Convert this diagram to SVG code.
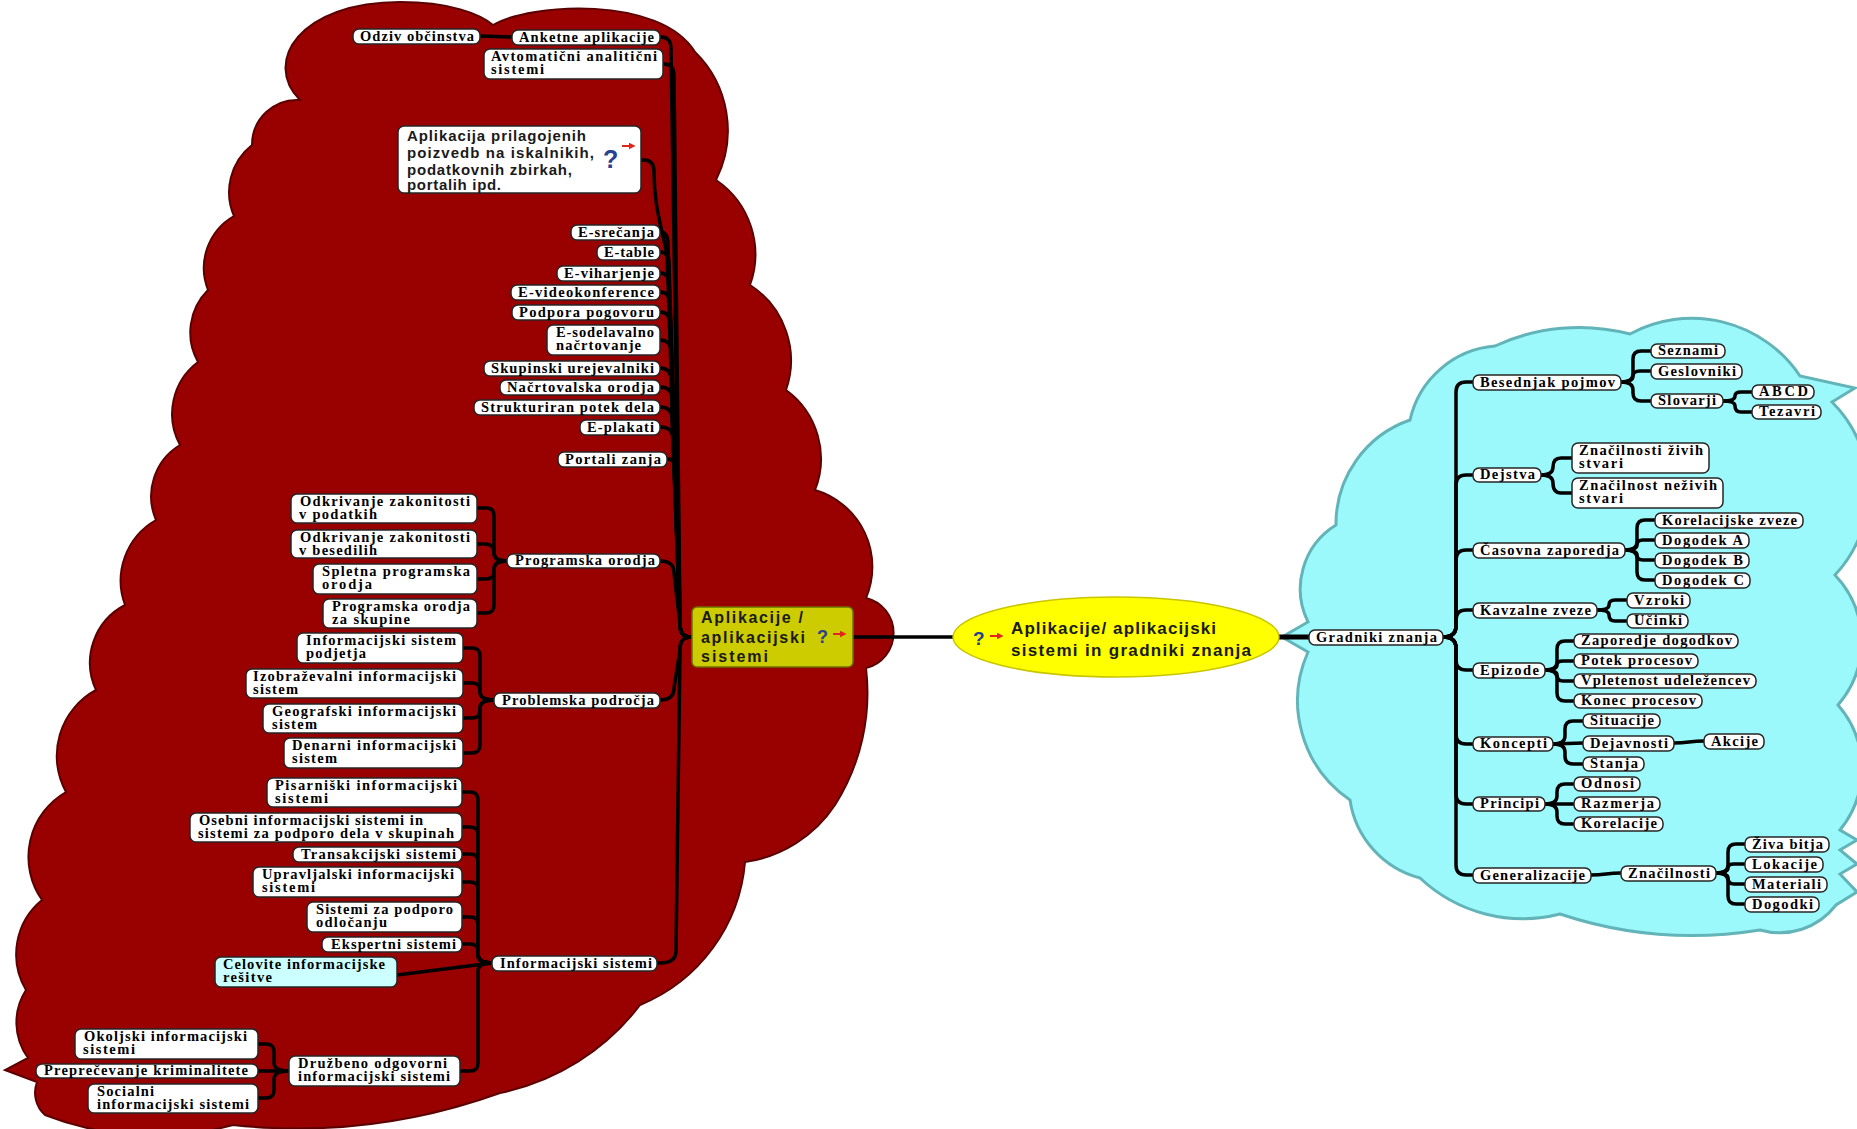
<svg xmlns="http://www.w3.org/2000/svg" width="1857" height="1129" viewBox="0 0 1857 1129">
<style>
.red{fill:#990000;stroke:#5a0000;stroke-width:2}
.cy{fill:#9cf9fb;stroke:#62b4b9;stroke-width:3}
.c{fill:none;stroke:#000;stroke-width:3.5;stroke-linecap:round;stroke-linejoin:round}
.b{fill:#fff;stroke:#262626;stroke-width:1.5}
.t{font-family:"Liberation Serif","Times New Roman",serif;font-weight:bold;font-size:14.5px;fill:#000}
.s{font-family:"Liberation Sans",Arial,sans-serif;font-weight:bold;fill:#1a1a1a}
.q{font-family:"Liberation Sans",Arial,sans-serif;font-weight:bold;fill:#26418f}
.ar{stroke:#e3241b;stroke-width:2;fill:none}
</style>
<defs>
<marker id="ah" viewBox="0 0 10 10" refX="2" refY="5" markerWidth="3.5" markerHeight="3.5" orient="auto"><path d="M0,0 L10,5 L0,10 z" fill="#e3241b"/></marker>
</defs>
<rect width="1857" height="1129" fill="#fff"/>
<g id="clouds">
<path class="red" d="M300 100 C262 62 300 2 400 2 C450 2 480 14 493 25 C530 3 660 -5 695 52 A110 110 0 0 1 716 180 A90 90 0 0 1 750 285 A90 90 0 0 1 786 390 A85 85 0 0 1 815 490 A80 80 0 0 1 866 598 A36 36 0 0 1 866 668 A210 210 0 0 1 835 805 A130 130 0 0 1 745 862 A170 170 0 0 1 640 1005 A235 235 0 0 1 500 1093 A600 600 0 0 1 233 1125 A300 300 0 0 1 45 1115 A30 30 0 0 1 37 1082 L5 1070 L28 1058 A60 60 0 0 1 26 990 A70 70 0 0 1 42 900 A75 75 0 0 1 66 792 A75 75 0 0 1 96 690 A65 65 0 0 1 125 605 A70 70 0 0 1 156 520 A60 60 0 0 1 180 445 A65 65 0 0 1 198 362 A60 60 0 0 1 208 290 A60 60 0 0 1 234 216 A60 60 0 0 1 252 145 A45 45 0 0 1 300 100 Z"/>
<path class="cy" d="M1282 637 L1308 622 A75 75 0 0 1 1336 525 A110 110 0 0 1 1410 420 A95 95 0 0 1 1495 346 A200 200 0 0 1 1630 334 A130 130 0 0 1 1800 376 L1855 388 L1832 402 A124 124 0 0 1 1835 575 A97 97 0 0 1 1838 705 A97 97 0 0 1 1840 830 L1857 840 L1840 850 L1857 864 L1840 874 L1857 892 L1836 905 A71 71 0 0 1 1760 930 A420 420 0 0 1 1560 914 A150 150 0 0 1 1420 878 A95 95 0 0 1 1350 800 A120 120 0 0 1 1308 652 Z"/>
</g>
<g id="connectors">
<path class="c" d="M853 637 L953 637"/>
<path class="c" style="stroke-width:5" d="M1279 637 L1309 637"/>
<path class="c" d="M692 637 C682 637 680 632 680 624 L671 49 Q671 37 661 37 L660 37"/>
<path class="c" d="M692 637 C682 637 680 632 680 624 L674 76 Q674 64 664 64 L663 64"/>
<path class="c" d="M692 637 C682 637 680 632 680 624 L667 255 C661 225 654 205 654 172 Q654 160 644 160 L641 160"/>
<path class="c" d="M692 637 C682 637 680 632 680 624 L668 244 Q668 232 660 232"/>
<path class="c" d="M692 637 C682 637 680 632 680 624 L669 264 Q669 252 660 252"/>
<path class="c" d="M692 637 C682 637 680 632 680 624 L669 285 Q669 273 660 273"/>
<path class="c" d="M692 637 C682 637 680 632 680 624 L670 304 Q670 292 660 292"/>
<path class="c" d="M692 637 C682 637 680 632 680 624 L670 324 Q670 312 660 312"/>
<path class="c" d="M692 637 C682 637 680 632 680 624 L671 352 Q671 340 660 340"/>
<path class="c" d="M692 637 C682 637 680 632 680 624 L671 380 Q671 368 660 368"/>
<path class="c" d="M692 637 C682 637 680 632 680 624 L672 399 Q672 387 660 387"/>
<path class="c" d="M692 637 C682 637 680 632 680 624 L672 419 Q672 407 660 407"/>
<path class="c" d="M692 637 C682 637 680 632 680 624 L673 439 Q673 427 660 427"/>
<path class="c" d="M692 637 C682 637 680 632 680 624 L677 471 Q677 459 667 459"/>
<path class="c" d="M692 637 C682 637 680 632 680 624 L674 573 Q674 561 660 561"/>
<path class="c" d="M692 637 C682 637 680 642 680 650 L674 688 Q674 700 660 700"/>
<path class="c" d="M692 637 C682 637 680 642 680 650 L676 951 Q676 963 660 963 L657 963"/>
<path class="c" d="M512 37 C496 37 496 36 480 36"/>
<path class="c" d="M507 561 Q494 561 494 553 L494 516 Q494 508 486 508 L477 508"/>
<path class="c" d="M507 561 Q494 561 494 553 Q494 544 485 544 L477 544"/>
<path class="c" d="M507 561 Q494 561 494 569 L494 571 Q494 579 486 579 L477 579"/>
<path class="c" d="M507 561 Q494 561 494 569 L494 605 Q494 613 486 613 L477 613"/>
<path class="c" d="M494 700 Q480 700 480 692 L480 656 Q480 648 472 648 L463 648"/>
<path class="c" d="M494 700 Q480 700 480 692 L480 691 Q480 683 472 683 L463 683"/>
<path class="c" d="M494 700 Q480 700 480 708 L480 710 Q480 718 472 718 L463 718"/>
<path class="c" d="M494 700 Q480 700 480 708 L480 745 Q480 753 472 753 L463 753"/>
<path class="c" d="M492 963 Q478 963 478 955 L478 800 Q478 792 470 792 L462 792"/>
<path class="c" d="M492 963 Q478 963 478 955 L478 835 Q478 827 470 827 L462 827"/>
<path class="c" d="M492 963 Q478 963 478 955 L478 862 Q478 854 470 854 L462 854"/>
<path class="c" d="M492 963 Q478 963 478 955 L478 890 Q478 882 470 882 L462 882"/>
<path class="c" d="M492 963 Q478 963 478 955 L478 925 Q478 917 470 917 L462 917"/>
<path class="c" d="M492 963 Q478 963 478 955 L478 952 Q478 944 470 944 L462 944"/>
<path class="c" d="M492 963 L397 975"/>
<path class="c" d="M492 963 Q478 963 478 971 L478 1063 Q478 1071 470 1071 L460 1071"/>
<path class="c" d="M289 1071 Q274 1071 274 1063 L274 1052 Q274 1044 266 1044 L258 1044"/>
<path class="c" d="M289 1071 L258 1071"/>
<path class="c" d="M289 1071 Q274 1071 274 1079 L274 1090 Q274 1098 266 1098 L258 1098"/>
<path class="c" d="M1443 637 C1452 637 1456 633 1456 626 L1456 392 Q1456 382 1466 382 L1473 382"/>
<path class="c" d="M1443 637 C1452 637 1456 633 1456 626 L1456 485 Q1456 475 1466 475 L1473 475"/>
<path class="c" d="M1443 637 C1452 637 1456 633 1456 626 L1456 560 Q1456 550 1466 550 L1473 550"/>
<path class="c" d="M1443 637 C1452 637 1456 633 1456 626 L1456 620 Q1456 610 1466 610 L1473 610"/>
<path class="c" d="M1443 637 C1452 637 1456 641 1456 648 L1456 660 Q1456 670 1466 670 L1473 670"/>
<path class="c" d="M1443 637 C1452 637 1456 641 1456 648 L1456 734 Q1456 744 1466 744 L1473 744"/>
<path class="c" d="M1443 637 C1452 637 1456 641 1456 648 L1456 794 Q1456 804 1466 804 L1473 804"/>
<path class="c" d="M1443 637 C1452 637 1456 641 1456 648 L1456 865 Q1456 875 1466 875 L1473 875"/>
<path class="c" d="M1621 382 Q1633 382 1633 374 L1633 359 Q1633 351 1641 351 L1651 351"/>
<path class="c" d="M1621 382 Q1633 382 1633 376 Q1633 371 1640 371 L1651 371"/>
<path class="c" d="M1621 382 Q1633 382 1633 390 L1633 393 Q1633 401 1641 401 L1651 401"/>
<path class="c" d="M1723 401 Q1735 401 1735 396 Q1735 392 1741 392 L1752 392"/>
<path class="c" d="M1723 401 Q1735 401 1735 406 Q1735 412 1741 412 L1752 412"/>
<path class="c" d="M1541 475 Q1553 475 1553 467 Q1553 458 1561 458 L1572 458"/>
<path class="c" d="M1541 475 Q1553 475 1553 483 Q1553 493 1561 493 L1572 493"/>
<path class="c" d="M1625 550 Q1637 550 1637 542 L1637 528 Q1637 520 1645 520 L1655 520"/>
<path class="c" d="M1625 550 Q1637 550 1637 545 Q1637 540 1643 540 L1655 540"/>
<path class="c" d="M1625 550 Q1637 550 1637 555 Q1637 560 1643 560 L1655 560"/>
<path class="c" d="M1625 550 Q1637 550 1637 558 L1637 572 Q1637 580 1645 580 L1655 580"/>
<path class="c" d="M1597 610 Q1609 610 1609 605 Q1609 600 1615 600 L1627 600"/>
<path class="c" d="M1597 610 Q1609 610 1609 615 Q1609 621 1615 621 L1627 621"/>
<path class="c" d="M1545 670 Q1557 670 1557 662 L1557 649 Q1557 641 1565 641 L1574 641"/>
<path class="c" d="M1545 670 Q1557 670 1557 665 Q1557 661 1563 661 L1574 661"/>
<path class="c" d="M1545 670 Q1557 670 1557 675 Q1557 681 1563 681 L1574 681"/>
<path class="c" d="M1545 670 Q1557 670 1557 678 L1557 693 Q1557 701 1565 701 L1574 701"/>
<path class="c" d="M1553 744 Q1565 744 1565 736 L1565 729 Q1565 721 1573 721 L1583 721"/>
<path class="c" d="M1553 744 L1583 743"/>
<path class="c" d="M1553 744 Q1565 744 1565 752 L1565 756 Q1565 764 1573 764 L1583 764"/>
<path class="c" d="M1674 743 C1689 743 1689 741 1704 741"/>
<path class="c" d="M1545 804 Q1557 804 1557 796 L1557 792 Q1557 784 1565 784 L1574 784"/>
<path class="c" d="M1545 804 L1574 804"/>
<path class="c" d="M1545 804 Q1557 804 1557 812 L1557 816 Q1557 824 1565 824 L1574 824"/>
<path class="c" d="M1591 875 C1606 875 1606 873 1621 873"/>
<path class="c" d="M1716 873 Q1728 873 1728 865 L1728 852 Q1728 844 1736 844 L1745 844"/>
<path class="c" d="M1716 873 Q1728 873 1728 868 Q1728 864 1734 864 L1745 864"/>
<path class="c" d="M1716 873 Q1728 873 1728 878 Q1728 884 1734 884 L1745 884"/>
<path class="c" d="M1716 873 Q1728 873 1728 881 L1728 896 Q1728 904 1736 904 L1745 904"/>
</g>
<g id="n-center">
<ellipse cx="1116" cy="637" rx="163" ry="40" fill="#ffff00" stroke="#c9c500" stroke-width="1.5"/>
<text class="q" x="973" y="645" font-size="19">?</text>
<path class="ar" d="M990 636 L998 636" marker-end="url(#ah)"/>
<text class="s" x="1011" y="634" font-size="17" textLength="205" lengthAdjust="spacing">Aplikacije/ aplikacijski</text>
<text class="s" x="1011" y="656" font-size="17" textLength="240" lengthAdjust="spacing">sistemi in gradniki znanja</text>
</g>
<g id="n-aplikacije">
<rect x="692" y="607" width="161" height="60" rx="5" fill="#cccc00" stroke="#6f6f00" stroke-width="1.5"/>
<text class="s" x="701" y="623" font-size="16" textLength="102" lengthAdjust="spacing">Aplikacije /</text>
<text class="s" x="701" y="643" font-size="16" textLength="104" lengthAdjust="spacing">aplikacijski</text>
<text class="s" x="701" y="662" font-size="16" textLength="67" lengthAdjust="spacing">sistemi</text>
<text class="q" x="817" y="643" font-size="18">?</text>
<path class="ar" d="M833 634 L841 634" marker-end="url(#ah)"/>
</g>
<g id="n-odziv"><rect class="b" x="353" y="29" width="127" height="15" rx="6"/><text class="t" x="360" y="40.5" textLength="114" lengthAdjust="spacing">Odziv občinstva</text></g>
<g id="n-anketne"><rect class="b" x="512" y="30" width="148" height="15" rx="6"/><text class="t" x="519" y="41.5" textLength="135" lengthAdjust="spacing">Anketne aplikacije</text></g>
<g id="n-avtomaticni"><rect class="b" x="484" y="49" width="179" height="30" rx="6"/><text class="t" x="491" y="61" textLength="166" lengthAdjust="spacing">Avtomatični analitični</text><text class="t" x="491" y="74" textLength="53" lengthAdjust="spacing">sistemi</text></g>
<g id="n-prilagojenih"><rect class="b" x="398" y="126" width="243" height="67" rx="6"/>
<text class="s" x="407" y="141" font-size="15" textLength="179" lengthAdjust="spacing">Aplikacija prilagojenih</text>
<text class="s" x="407" y="158" font-size="15" textLength="187" lengthAdjust="spacing">poizvedb na iskalnikih,</text>
<text class="s" x="407" y="175" font-size="15" textLength="165" lengthAdjust="spacing">podatkovnih zbirkah,</text>
<text class="s" x="407" y="190" font-size="15" textLength="94" lengthAdjust="spacing">portalih ipd.</text>
<text class="q" x="603" y="168" font-size="25">?</text>
<path class="ar" d="M622 146 L630 146" marker-end="url(#ah)"/></g>
<g id="n-esrecanja"><rect class="b" x="571" y="225" width="89" height="15" rx="6"/><text class="t" x="578" y="236.5" textLength="76" lengthAdjust="spacing">E-srečanja</text></g>
<g id="n-etable"><rect class="b" x="597" y="245" width="63" height="15" rx="6"/><text class="t" x="604" y="256.5" textLength="50" lengthAdjust="spacing">E-table</text></g>
<g id="n-eviharjenje"><rect class="b" x="557" y="266" width="103" height="15" rx="6"/><text class="t" x="564" y="277.5" textLength="90" lengthAdjust="spacing">E-viharjenje</text></g>
<g id="n-evideo"><rect class="b" x="511" y="285" width="149" height="15" rx="6"/><text class="t" x="518" y="296.5" textLength="136" lengthAdjust="spacing">E-videokonference</text></g>
<g id="n-podpora"><rect class="b" x="512" y="305" width="148" height="15" rx="6"/><text class="t" x="519" y="316.5" textLength="135" lengthAdjust="spacing">Podpora pogovoru</text></g>
<g id="n-esodelavalno"><rect class="b" x="547" y="325" width="113" height="30" rx="6"/><text class="t" x="556" y="337" textLength="98" lengthAdjust="spacing">E-sodelavalno</text><text class="t" x="556" y="350" textLength="85" lengthAdjust="spacing">načrtovanje</text></g>
<g id="n-skupinski"><rect class="b" x="484" y="361" width="176" height="15" rx="6"/><text class="t" x="491" y="372.5" textLength="163" lengthAdjust="spacing">Skupinski urejevalniki</text></g>
<g id="n-nacrtovalska"><rect class="b" x="500" y="380" width="160" height="15" rx="6"/><text class="t" x="507" y="391.5" textLength="147" lengthAdjust="spacing">Načrtovalska orodja</text></g>
<g id="n-strukturiran"><rect class="b" x="474" y="400" width="186" height="15" rx="6"/><text class="t" x="481" y="411.5" textLength="173" lengthAdjust="spacing">Strukturiran potek dela</text></g>
<g id="n-eplakati"><rect class="b" x="580" y="420" width="80" height="15" rx="6"/><text class="t" x="587" y="431.5" textLength="67" lengthAdjust="spacing">E-plakati</text></g>
<g id="n-portali"><rect class="b" x="558" y="452" width="109" height="15" rx="6"/><text class="t" x="565" y="463.5" textLength="96" lengthAdjust="spacing">Portali zanja</text></g>
<g id="n-odkrivanje1"><rect class="b" x="291" y="494" width="186" height="29" rx="6"/><text class="t" x="300" y="506" textLength="170" lengthAdjust="spacing">Odkrivanje zakonitosti</text><text class="t" x="299" y="519" textLength="78" lengthAdjust="spacing">v podatkih</text></g>
<g id="n-odkrivanje2"><rect class="b" x="291" y="530" width="186" height="28" rx="6"/><text class="t" x="300" y="542" textLength="170" lengthAdjust="spacing">Odkrivanje zakonitosti</text><text class="t" x="299" y="555" textLength="78" lengthAdjust="spacing">v besedilih</text></g>
<g id="n-spletna"><rect class="b" x="313" y="564" width="164" height="30" rx="6"/><text class="t" x="322" y="576" textLength="148" lengthAdjust="spacing">Spletna programska</text><text class="t" x="322" y="589" textLength="50" lengthAdjust="spacing">orodja</text></g>
<g id="n-progskupine"><rect class="b" x="323" y="599" width="154" height="29" rx="6"/><text class="t" x="332" y="611" textLength="138" lengthAdjust="spacing">Programska orodja</text><text class="t" x="332" y="624" textLength="78" lengthAdjust="spacing">za skupine</text></g>
<g id="n-programska"><rect class="b" x="507" y="554" width="153" height="14" rx="6"/><text class="t" x="515" y="565" textLength="140" lengthAdjust="spacing">Programska orodja</text></g>
<g id="n-ispodjetja"><rect class="b" x="297" y="633" width="166" height="30" rx="6"/><text class="t" x="306" y="645" textLength="150" lengthAdjust="spacing">Informacijski sistem</text><text class="t" x="306" y="658" textLength="60" lengthAdjust="spacing">podjetja</text></g>
<g id="n-izobrazevalni"><rect class="b" x="246" y="669" width="217" height="29" rx="6"/><text class="t" x="253" y="681" textLength="203" lengthAdjust="spacing">Izobraževalni informacijski</text><text class="t" x="253" y="694" textLength="45" lengthAdjust="spacing">sistem</text></g>
<g id="n-geografski"><rect class="b" x="263" y="704" width="200" height="29" rx="6"/><text class="t" x="272" y="716" textLength="184" lengthAdjust="spacing">Geografski informacijski</text><text class="t" x="272" y="729" textLength="45" lengthAdjust="spacing">sistem</text></g>
<g id="n-denarni"><rect class="b" x="284" y="738" width="179" height="30" rx="6"/><text class="t" x="292" y="750" textLength="164" lengthAdjust="spacing">Denarni informacijski</text><text class="t" x="292" y="763" textLength="45" lengthAdjust="spacing">sistem</text></g>
<g id="n-problemska"><rect class="b" x="494" y="693" width="166" height="15" rx="6"/><text class="t" x="502" y="704.5" textLength="152" lengthAdjust="spacing">Problemska področja</text></g>
<g id="n-pisarniski"><rect class="b" x="267" y="778" width="195" height="29" rx="6"/><text class="t" x="275" y="790" textLength="182" lengthAdjust="spacing">Pisarniški informacijski</text><text class="t" x="275" y="803" textLength="53" lengthAdjust="spacing">sistemi</text></g>
<g id="n-osebni"><rect class="b" x="190" y="813" width="272" height="29" rx="6"/><text class="t" x="199" y="825" textLength="224" lengthAdjust="spacing">Osebni informacijski sistemi in</text><text class="t" x="198" y="838" textLength="256" lengthAdjust="spacing">sistemi za podporo dela v skupinah</text></g>
<g id="n-transakcijski"><rect class="b" x="293" y="847" width="169" height="15" rx="6"/><text class="t" x="301" y="858.5" textLength="155" lengthAdjust="spacing">Transakcijski sistemi</text></g>
<g id="n-upravljalski"><rect class="b" x="253" y="867" width="209" height="30" rx="6"/><text class="t" x="262" y="879" textLength="192" lengthAdjust="spacing">Upravljalski informacijski</text><text class="t" x="262" y="892" textLength="53" lengthAdjust="spacing">sistemi</text></g>
<g id="n-sistemizapodporo"><rect class="b" x="307" y="902" width="155" height="30" rx="6"/><text class="t" x="316" y="914" textLength="137" lengthAdjust="spacing">Sistemi za podporo</text><text class="t" x="316" y="927" textLength="71" lengthAdjust="spacing">odločanju</text></g>
<g id="n-ekspertni"><rect class="b" x="322" y="937" width="140" height="15" rx="6"/><text class="t" x="331" y="948.5" textLength="125" lengthAdjust="spacing">Ekspertni sistemi</text></g>
<g id="n-celovite"><rect class="b" x="215" y="957" width="182" height="30" rx="6" style="fill:#ccffff"/><text class="t" x="223" y="969" textLength="162" lengthAdjust="spacing">Celovite informacijske</text><text class="t" x="223" y="982" textLength="49" lengthAdjust="spacing">rešitve</text></g>
<g id="n-infosistemi"><rect class="b" x="492" y="956" width="165" height="15" rx="6"/><text class="t" x="500" y="967.5" textLength="152" lengthAdjust="spacing">Informacijski sistemi</text></g>
<g id="n-okoljski"><rect class="b" x="75" y="1029" width="183" height="30" rx="6"/><text class="t" x="84" y="1041" textLength="163" lengthAdjust="spacing">Okoljski informacijski</text><text class="t" x="83" y="1054" textLength="52" lengthAdjust="spacing">sistemi</text></g>
<g id="n-preprecevanje"><rect class="b" x="36" y="1064" width="222" height="14" rx="6"/><text class="t" x="44" y="1075" textLength="204" lengthAdjust="spacing">Preprečevanje kriminalitete</text></g>
<g id="n-socialni"><rect class="b" x="88" y="1084" width="170" height="29" rx="6"/><text class="t" x="97" y="1096" textLength="57" lengthAdjust="spacing">Socialni</text><text class="t" x="97" y="1109" textLength="152" lengthAdjust="spacing">informacijski sistemi</text></g>
<g id="n-druzbeno"><rect class="b" x="289" y="1056" width="171" height="30" rx="6"/><text class="t" x="298" y="1068" textLength="149" lengthAdjust="spacing">Družbeno odgovorni</text><text class="t" x="298" y="1081" textLength="152" lengthAdjust="spacing">informacijski sistemi</text></g>
<g id="n-gradniki"><rect class="b" x="1309" y="630" width="134" height="15" rx="6"/><text class="t" x="1316" y="641.5" textLength="121" lengthAdjust="spacing">Gradniki znanja</text></g>
<g id="n-besednjak"><rect class="b" x="1473" y="375" width="148" height="15" rx="6"/><text class="t" x="1480" y="386.5" textLength="135" lengthAdjust="spacing">Besednjak pojmov</text></g>
<g id="n-seznami"><rect class="b" x="1651" y="344" width="74" height="14" rx="6"/><text class="t" x="1658" y="355" textLength="60" lengthAdjust="spacing">Seznami</text></g>
<g id="n-geslovniki"><rect class="b" x="1651" y="364" width="91" height="15" rx="6"/><text class="t" x="1658" y="375.5" textLength="78" lengthAdjust="spacing">Geslovniki</text></g>
<g id="n-slovarji"><rect class="b" x="1651" y="394" width="72" height="14" rx="6"/><text class="t" x="1658" y="405" textLength="58" lengthAdjust="spacing">Slovarji</text></g>
<g id="n-abcd"><rect class="b" x="1752" y="385" width="62" height="14" rx="6"/><text class="t" x="1759" y="396" textLength="49" lengthAdjust="spacing">ABCD</text></g>
<g id="n-tezavri"><rect class="b" x="1752" y="405" width="69" height="14" rx="6"/><text class="t" x="1759" y="416" textLength="56" lengthAdjust="spacing">Tezavri</text></g>
<g id="n-dejstva"><rect class="b" x="1473" y="468" width="68" height="14" rx="6"/><text class="t" x="1480" y="479" textLength="55" lengthAdjust="spacing">Dejstva</text></g>
<g id="n-zivih"><rect class="b" x="1572" y="443" width="137" height="30" rx="6"/><text class="t" x="1579" y="455" textLength="124" lengthAdjust="spacing">Značilnosti živih</text><text class="t" x="1579" y="468" textLength="44" lengthAdjust="spacing">stvari</text></g>
<g id="n-nezivih"><rect class="b" x="1572" y="478" width="151" height="30" rx="6"/><text class="t" x="1579" y="490" textLength="138" lengthAdjust="spacing">Značilnost neživih</text><text class="t" x="1579" y="503" textLength="44" lengthAdjust="spacing">stvari</text></g>
<g id="n-casovna"><rect class="b" x="1473" y="543" width="152" height="15" rx="6"/><text class="t" x="1480" y="554.5" textLength="139" lengthAdjust="spacing">Časovna zaporedja</text></g>
<g id="n-korelacijske"><rect class="b" x="1655" y="513" width="148" height="15" rx="6"/><text class="t" x="1662" y="524.5" textLength="135" lengthAdjust="spacing">Korelacijske zveze</text></g>
<g id="n-doga"><rect class="b" x="1655" y="533" width="94" height="15" rx="6"/><text class="t" x="1662" y="544.5" textLength="81" lengthAdjust="spacing">Dogodek A</text></g>
<g id="n-dogb"><rect class="b" x="1655" y="553" width="94" height="15" rx="6"/><text class="t" x="1662" y="564.5" textLength="81" lengthAdjust="spacing">Dogodek B</text></g>
<g id="n-dogc"><rect class="b" x="1655" y="573" width="95" height="15" rx="6"/><text class="t" x="1662" y="584.5" textLength="82" lengthAdjust="spacing">Dogodek C</text></g>
<g id="n-kavzalne"><rect class="b" x="1473" y="603" width="124" height="15" rx="6"/><text class="t" x="1480" y="614.5" textLength="111" lengthAdjust="spacing">Kavzalne zveze</text></g>
<g id="n-vzroki"><rect class="b" x="1627" y="593" width="63" height="15" rx="6"/><text class="t" x="1634" y="604.5" textLength="50" lengthAdjust="spacing">Vzroki</text></g>
<g id="n-ucinki"><rect class="b" x="1627" y="614" width="61" height="14" rx="6"/><text class="t" x="1634" y="625" textLength="48" lengthAdjust="spacing">Učinki</text></g>
<g id="n-zaporedje"><rect class="b" x="1574" y="634" width="164" height="14" rx="6"/><text class="t" x="1581" y="645" textLength="151" lengthAdjust="spacing">Zaporedje dogodkov</text></g>
<g id="n-potek"><rect class="b" x="1574" y="654" width="124" height="14" rx="6"/><text class="t" x="1581" y="665" textLength="111" lengthAdjust="spacing">Potek procesov</text></g>
<g id="n-epizode"><rect class="b" x="1473" y="663" width="72" height="15" rx="6"/><text class="t" x="1480" y="674.5" textLength="59" lengthAdjust="spacing">Epizode</text></g>
<g id="n-vpletenost"><rect class="b" x="1574" y="674" width="182" height="14" rx="6"/><text class="t" x="1581" y="685" textLength="169" lengthAdjust="spacing">Vpletenost udeležencev</text></g>
<g id="n-konec"><rect class="b" x="1574" y="694" width="128" height="14" rx="6"/><text class="t" x="1581" y="705" textLength="115" lengthAdjust="spacing">Konec procesov</text></g>
<g id="n-situacije"><rect class="b" x="1583" y="714" width="77" height="14" rx="6"/><text class="t" x="1590" y="725" textLength="64" lengthAdjust="spacing">Situacije</text></g>
<g id="n-koncepti"><rect class="b" x="1473" y="737" width="80" height="14" rx="6"/><text class="t" x="1480" y="748" textLength="67" lengthAdjust="spacing">Koncepti</text></g>
<g id="n-dejavnosti"><rect class="b" x="1583" y="736" width="91" height="15" rx="6"/><text class="t" x="1590" y="747.5" textLength="78" lengthAdjust="spacing">Dejavnosti</text></g>
<g id="n-akcije"><rect class="b" x="1704" y="734" width="60" height="15" rx="6"/><text class="t" x="1711" y="745.5" textLength="47" lengthAdjust="spacing">Akcije</text></g>
<g id="n-stanja"><rect class="b" x="1583" y="757" width="61" height="14" rx="6"/><text class="t" x="1590" y="768" textLength="48" lengthAdjust="spacing">Stanja</text></g>
<g id="n-odnosi"><rect class="b" x="1574" y="777" width="66" height="14" rx="6"/><text class="t" x="1581" y="788" textLength="53" lengthAdjust="spacing">Odnosi</text></g>
<g id="n-principi"><rect class="b" x="1473" y="797" width="72" height="14" rx="6"/><text class="t" x="1480" y="808" textLength="59" lengthAdjust="spacing">Principi</text></g>
<g id="n-razmerja"><rect class="b" x="1574" y="797" width="86" height="14" rx="6"/><text class="t" x="1581" y="808" textLength="73" lengthAdjust="spacing">Razmerja</text></g>
<g id="n-korelacije"><rect class="b" x="1574" y="817" width="89" height="14" rx="6"/><text class="t" x="1581" y="828" textLength="76" lengthAdjust="spacing">Korelacije</text></g>
<g id="n-generalizacije"><rect class="b" x="1473" y="868" width="118" height="15" rx="6"/><text class="t" x="1480" y="879.5" textLength="105" lengthAdjust="spacing">Generalizacije</text></g>
<g id="n-znacilnosti"><rect class="b" x="1621" y="866" width="95" height="15" rx="6"/><text class="t" x="1628" y="877.5" textLength="82" lengthAdjust="spacing">Značilnosti</text></g>
<g id="n-zivabitja"><rect class="b" x="1745" y="837" width="84" height="15" rx="6"/><text class="t" x="1752" y="848.5" textLength="71" lengthAdjust="spacing">Živa bitja</text></g>
<g id="n-lokacije"><rect class="b" x="1745" y="857" width="78" height="15" rx="6"/><text class="t" x="1752" y="868.5" textLength="65" lengthAdjust="spacing">Lokacije</text></g>
<g id="n-materiali"><rect class="b" x="1745" y="877" width="82" height="15" rx="6"/><text class="t" x="1752" y="888.5" textLength="69" lengthAdjust="spacing">Materiali</text></g>
<g id="n-dogodki"><rect class="b" x="1745" y="897" width="74" height="15" rx="6"/><text class="t" x="1752" y="908.5" textLength="61" lengthAdjust="spacing">Dogodki</text></g>
</svg>
